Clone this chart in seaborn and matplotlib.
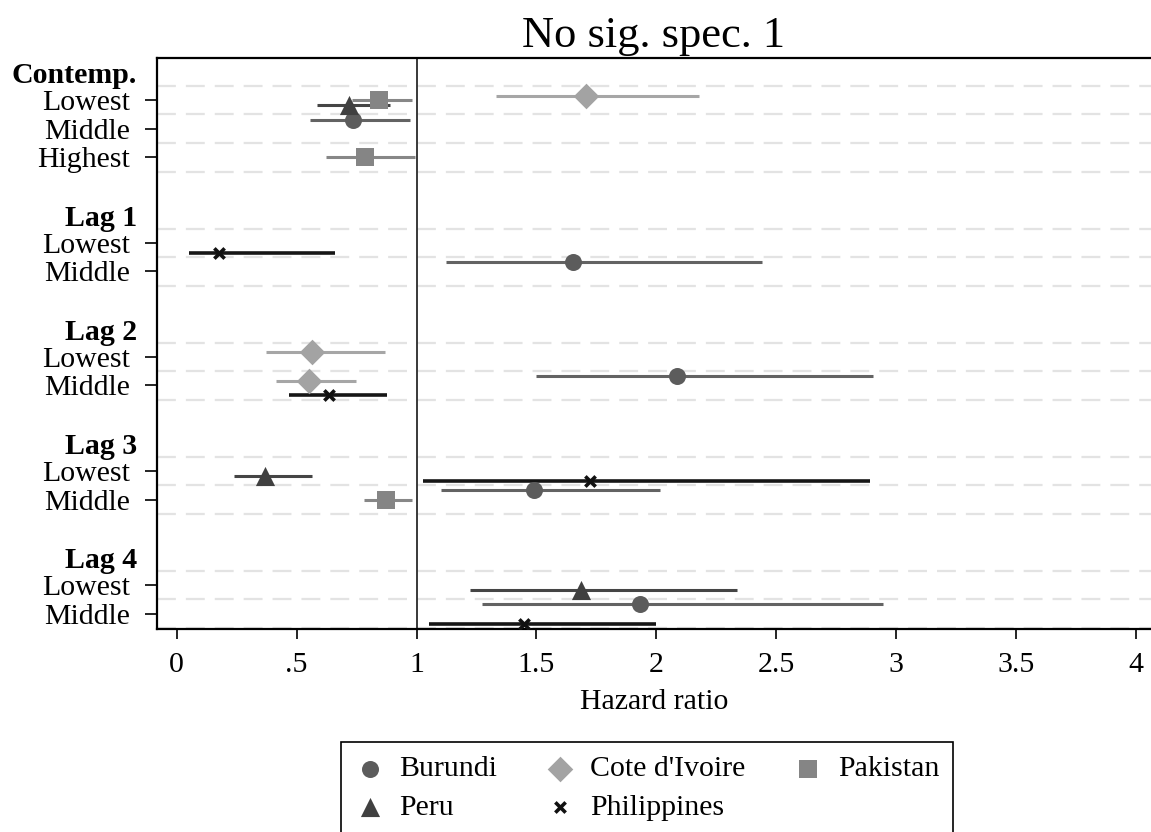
import matplotlib
matplotlib.use("Agg")
import matplotlib.pyplot as plt
import seaborn as sns
import pandas as pd
from matplotlib.transforms import blended_transform_factory

# ---------------- data ----------------
countries = ["Burundi", "Cote d'Ivoire", "Pakistan", "Peru", "Philippines"]
groups = ["Contemp.", "Lag 1", "Lag 2", "Lag 3", "Lag 4"]
group_levels = {
    "Contemp.": ["Lowest", "Middle", "Highest"],
    "Lag 1": ["Lowest", "Middle"],
    "Lag 2": ["Lowest", "Middle"],
    "Lag 3": ["Lowest", "Middle"],
    "Lag 4": ["Lowest", "Middle"],
}

est_country = ["Cote d'Ivoire", "Pakistan", "Peru", "Burundi", "Pakistan",
               "Philippines", "Burundi",
               "Cote d'Ivoire", "Cote d'Ivoire", "Philippines", "Burundi",
               "Peru", "Philippines", "Pakistan", "Burundi",
               "Peru", "Burundi", "Philippines"]
est_group = ["Contemp.", "Contemp.", "Contemp.", "Contemp.", "Contemp.",
             "Lag 1", "Lag 1",
             "Lag 2", "Lag 2", "Lag 2", "Lag 2",
             "Lag 3", "Lag 3", "Lag 3", "Lag 3",
             "Lag 4", "Lag 4", "Lag 4"]
est_level = ["Lowest", "Lowest", "Lowest", "Middle", "Highest",
             "Lowest", "Middle",
             "Lowest", "Middle", "Middle", "Middle",
             "Lowest", "Lowest", "Middle", "Middle",
             "Lowest", "Middle", "Middle"]
hazard = [1.705, 0.843, 0.719, 0.733, 0.787,
          0.177, 1.653,
          0.564, 0.553, 0.636, 2.085,
          0.366, 1.724, 0.873, 1.489,
          1.688, 1.933, 1.450]
ci_low = [1.333, 0.730, 0.585, 0.556, 0.623,
          0.050, 1.121,
          0.371, 0.412, 0.468, 1.500,
          0.239, 1.028, 0.780, 1.103,
          1.222, 1.274, 1.051]
ci_high = [2.180, 0.983, 0.891, 0.971, 0.995,
           0.661, 2.443,
           0.867, 0.748, 0.875, 2.903,
           0.565, 2.892, 0.980, 2.015,
           2.339, 2.944, 2.001]

# ---------------- styling ----------------
marker_map = {"Burundi": "o", "Cote d'Ivoire": "D", "Pakistan": "s", "Peru": "^", "Philippines": "x"}
marker_col = {"Burundi": "#5c5c5c", "Cote d'Ivoire": "#a3a3a3", "Pakistan": "#858585",
              "Peru": "#404040", "Philippines": "#111111"}
line_col = {"Burundi": "#636363", "Cote d'Ivoire": "#a6a6a6", "Pakistan": "#878787",
            "Peru": "#454545", "Philippines": "#161616"}
marker_s = {"Burundi": 150, "Cote d'Ivoire": 170, "Pakistan": 170, "Peru": 190, "Philippines": 55}
offset = {"Burundi": -0.32, "Cote d'Ivoire": -0.16, "Pakistan": 0.0, "Peru": 0.17, "Philippines": 0.35}

# row positions
row_pos = {}
header_pos = {}
pos = 0
for g in groups:
    header_pos[g] = pos - 0.86
    for lv in group_levels[g]:
        row_pos[(g, lv)] = pos
        pos += 1
    pos += 2

df = pd.DataFrame({"country": est_country, "group": est_group, "level": est_level,
                   "hr": hazard, "lo": ci_low, "hi": ci_high})
df["y"] = [row_pos[(g, l)] + offset[c] for g, l, c in zip(df.group, df.level, df.country)]

sns.set_theme(style="white")
plt.rcParams["font.family"] = ["Liberation Serif", "DejaVu Serif"]
for k in ["text.color", "axes.labelcolor", "xtick.color", "ytick.color", "axes.edgecolor"]:
    plt.rcParams[k] = "black"

fig = plt.figure(figsize=(11.51, 8.32), dpi=100)
ax = fig.add_axes([157 / 1151, 1 - 629 / 832, 1 - 157 / 1151, (629 - 58) / 832])

# dashed separators
for (g, lv), p in row_pos.items():
    if lv == "Lowest":
        ax.axhline(p - 0.5, color="#e3e3e3", lw=1.6, ls=(0, (8.5, 4.5)), zorder=0)
    ax.axhline(p + 0.5, color="#e3e3e3", lw=1.6, ls=(0, (8.5, 4.5)), zorder=0)

ax.axvline(1, color="#2a2a2a", lw=1.3, zorder=1)

# CI lines
for c in countries:
    sub = df[df.country == c]
    ax.hlines(sub.y, sub.lo, sub.hi, color=line_col[c],
              lw=2.6 if c == "Philippines" else 2.2, zorder=2)

# points
for c in countries:
    sub = df[df.country == c]
    kw = dict(linewidth=2.6) if c == "Philippines" else dict(linewidth=0)
    sns.scatterplot(data=sub, x="hr", y="y", marker=marker_map[c], color=marker_col[c],
                    s=marker_s[c], ax=ax, label=c, zorder=3, **kw)

ax.set_xlim(-0.0826, 4.064)
ax.set_ylim(18.54, -1.48)
ax.set_xticks([0, 0.5, 1, 1.5, 2, 2.5, 3, 3.5, 4])
ax.set_xticklabels(["0", ".5", "1", "1.5", "2", "2.5", "3", "3.5", "4"])
yt = [row_pos[k] for k in row_pos]
ax.set_yticks(yt)
ax.set_yticklabels([k[1] for k in row_pos])
ax.tick_params(axis="x", direction="out", length=7.5, width=1.2, pad=9, labelsize=21.5, colors="black",
               bottom=True)
ax.tick_params(axis="y", direction="out", length=8.5, width=1.2, pad=11, labelsize=21.5, colors="black",
               left=True)
for sp in ["left", "bottom", "top"]:
    ax.spines[sp].set_color("black")
    ax.spines[sp].set_linewidth(1.6)
ax.spines["right"].set_visible(False)

trans = blended_transform_factory(ax.transAxes, ax.transData)
for g in groups:
    ax.text(-20 / 994, header_pos[g], g, transform=trans, ha="right", va="center",
            fontsize=21.5, fontweight="bold", color="black")

ax.set_xlabel("Hazard ratio", fontsize=21.5, labelpad=8, color="black")
ax.set_ylabel("")
ax.set_title("No sig. spec. 1", fontsize=32, pad=8, color="black")

handles, labels = ax.get_legend_handles_labels()
ax.get_legend().remove()
order = ["Burundi", "Peru", "Cote d'Ivoire", "Philippines", "Pakistan"]
hmap = dict(zip(labels, handles))
leg = fig.legend([hmap[o] for o in order], order, loc="upper center",
                 bbox_to_anchor=(647 / 1151, 1 - 742 / 832), ncol=3, fontsize=21.5,
                 frameon=True, fancybox=False, edgecolor="black", framealpha=1,
                 handlelength=1.0, handletextpad=0.5, columnspacing=1.6,
                 labelspacing=0.38, borderpad=0.45, borderaxespad=0)
leg.get_frame().set_linewidth(1.2)
for t in leg.get_texts():
    t.set_color("black")

fig.savefig("out.png", dpi=100)
